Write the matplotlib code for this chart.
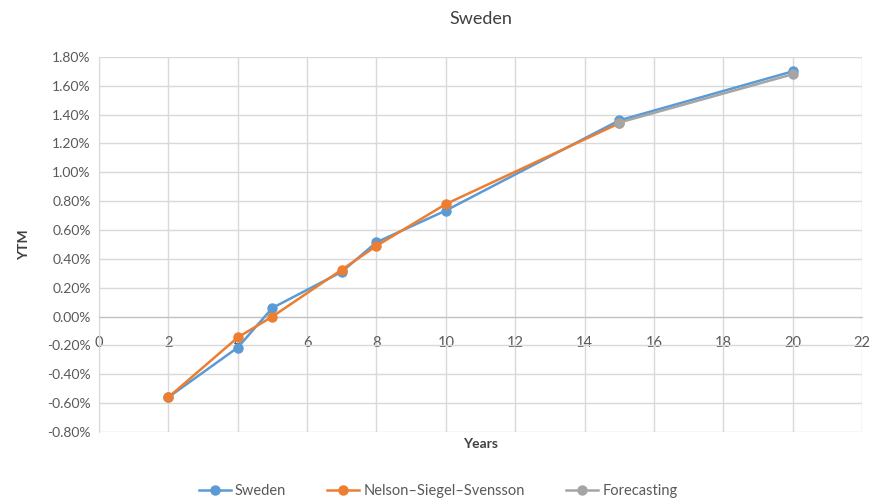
import matplotlib
matplotlib.use("Agg")
import matplotlib.pyplot as plt
from matplotlib.ticker import FuncFormatter, MultipleLocator

plt.rcParams['font.family'] = ['Lato', 'DejaVu Sans']

# Data (YTM in %)
sweden_x = [2, 4, 5, 7, 8, 10, 15, 20]
sweden_y = [-0.56, -0.215, 0.06, 0.31, 0.515, 0.735, 1.36, 1.70]
nss_x = [2, 4, 5, 7, 8, 10, 15]
nss_y = [-0.56, -0.145, 0.00, 0.325, 0.49, 0.78, 1.34]
fc_x = [15, 20]
fc_y = [1.345, 1.68]

title = "Sweden"
xlabel = "Years"
ylabel = "YTM"

text_color = "#595959"
grid_color = "#D9D9D9"

fig = plt.figure(figsize=(8.76, 5.04), dpi=100)
ax = fig.add_axes([0.113, 0.143, 0.871, 0.744])

ax.plot(sweden_x, sweden_y, color="#5B9BD5", lw=1.8, marker="o", ms=6.5, label="Sweden", zorder=3)
ax.plot(nss_x, nss_y, color="#ED7D31", lw=1.8, marker="o", ms=6.5, label="Nelson\u2013Siegel\u2013Svensson", zorder=4)
ax.plot(fc_x, fc_y, color="#A5A5A5", lw=1.8, marker="o", ms=6.5, label="Forecasting", zorder=5)

ax.set_xlim(0, 22)
ax.set_ylim(-0.8, 1.8)
ax.xaxis.set_major_locator(MultipleLocator(2))
ax.yaxis.set_major_locator(MultipleLocator(0.2))
ax.yaxis.set_major_formatter(FuncFormatter(lambda v, p: f"{v:.2f}%"))
ax.grid(True, color=grid_color, lw=1)
ax.set_axisbelow(True)

for s in ['top', 'right', 'bottom']:
    ax.spines[s].set_visible(False)
ax.spines['left'].set_color(grid_color)
ax.spines['bottom'].set_visible(True)
ax.spines['bottom'].set_position(('data', 0))
ax.spines['bottom'].set_color("#BFBFBF")
ax.tick_params(axis='both', length=0, colors=text_color, labelsize=10)
ax.tick_params(axis='x', pad=14, labelsize=10.5)
ax.tick_params(axis='y', pad=6)

ax.set_title(title, fontsize=13, color="#404040", pad=24)
ax.set_ylabel(ylabel, fontsize=10, color="#404040", fontweight='bold', labelpad=12)
fig.text(0.548, 0.12, xlabel, ha='center', va='center', fontsize=10, color="#404040", fontweight='bold')

leg = fig.legend(loc='center', bbox_to_anchor=(0.5, 0.025), ncol=3, frameon=False,
                 fontsize=10.5, handlelength=2.2, columnspacing=2.8, handletextpad=0.3)
for t in leg.get_texts():
    t.set_color(text_color)

fig.savefig("out.png", dpi=100)
